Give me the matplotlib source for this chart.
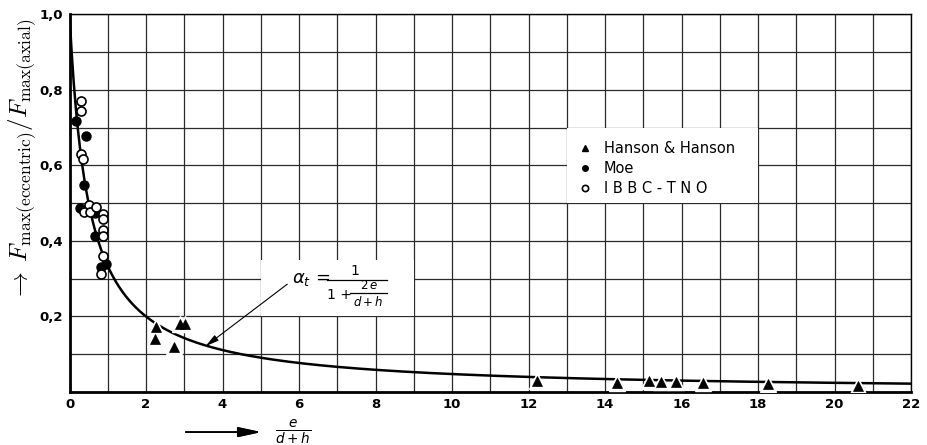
import numpy as np
import matplotlib
matplotlib.use("Agg")
import matplotlib.pyplot as plt
from matplotlib.patches import Rectangle

# Hanson & Hanson (triangles)
hanson_x = [2.25, 2.23, 2.72, 2.89, 3.03, 12.21, 14.30, 15.14, 15.46, 15.84, 16.56, 18.27, 20.60]
hanson_y = [0.172, 0.140, 0.119, 0.179, 0.179, 0.029, 0.024, 0.028, 0.026, 0.026, 0.024, 0.020, 0.017]

# Moe (filled circles)
moe_x = [0.16, 0.44, 0.38, 0.28, 0.66, 0.67, 0.82, 0.95]
moe_y = [0.718, 0.677, 0.548, 0.487, 0.473, 0.412, 0.331, 0.339]

# IBBC-TNO (open circles)
ibbc_x = [0.30, 0.30, 0.30, 0.34, 0.50, 0.38, 0.54, 0.70, 0.87, 0.87, 0.87, 0.87, 0.87, 0.82]
ibbc_y = [0.771, 0.743, 0.630, 0.616, 0.495, 0.477, 0.477, 0.489, 0.470, 0.457, 0.430, 0.412, 0.359, 0.312]

x_ticks = list(range(0, 23, 2))
y_ticks = [0.2, 0.4, 0.6, 0.8, 1.0]
y_tick_labels = ["0,2", "0,4", "0,6", "0,8", "1,0"]


def alpha_t(r):
    # curve given on the chart: alpha_t = 1 / (1 + 2e/(d+h))
    return 1.0 / (1.0 + 2.0 * r)


fig = plt.figure(figsize=(9.28, 4.45), dpi=100)
ax = fig.add_axes([0.0749, 0.119, 0.907, 0.849])

ax.set_xlim(0, 22)
ax.set_ylim(0, 1.0)
ax.set_axisbelow(True)
ax.grid(True, color="#2a2a2a", linewidth=0.9)
ax.tick_params(length=0)
ax.tick_params(axis="y", pad=5)
ax.tick_params(axis="x", pad=4)

ax.set_xticks(range(0, 23), [str(v) if v in x_ticks else "" for v in range(0, 23)])
ygrid = np.round(np.arange(0, 1.01, 0.1), 1)
ylabs = []
for v in ygrid:
    lab = ""
    for t, s in zip(y_ticks, y_tick_labels):
        if abs(t - v) < 1e-6:
            lab = s
    ylabs.append(lab)
ax.set_yticks(ygrid, ylabs)
for lab in ax.get_xticklabels() + ax.get_yticklabels():
    lab.set_fontweight("bold")
    lab.set_fontsize(9.5)

for side in ["left", "bottom"]:
    ax.spines[side].set_linewidth(2.0)
for side in ["top", "right"]:
    ax.spines[side].set_linewidth(1.0)

# white patches under the legend and the formula
ax.add_patch(Rectangle((13, 0.5), 5, 0.2, facecolor="white", edgecolor="none", zorder=1))
ax.add_patch(Rectangle((5, 0.2), 4, 0.15, facecolor="white", edgecolor="none", zorder=1))

xs = np.linspace(0.0, 22, 800)
ax.plot(xs, alpha_t(xs), color="black", linewidth=1.8, zorder=2)

# white halo behind the triangles breaks the curve like in the print
ax.plot(hanson_x, hanson_y, "^", color="white", markersize=11, mec="white", zorder=3)
ax.plot(hanson_x, hanson_y, "^", color="black", markersize=7.5, mec="black", mew=0.5, zorder=3)
ax.plot(moe_x, moe_y, "o", color="black", markersize=6.5, mec="black", zorder=3)
ax.plot(ibbc_x, ibbc_y, "o", mfc="white", mec="black", markersize=6.5, mew=1.2, zorder=4)

# legend
leg_x = [13.47, 13.47, 13.47]
leg_y = [0.645, 0.592, 0.539]
ax.plot(leg_x[0], leg_y[0], "^", color="black", markersize=5, zorder=3)
ax.plot(leg_x[1], leg_y[1], "o", color="black", markersize=4, zorder=3)
ax.plot(leg_x[2], leg_y[2], "o", mfc="white", mec="black", markersize=4.5, mew=1.2, zorder=3)
for y, s in zip(leg_y, ["Hanson & Hanson", "Moe", "I B B C - T N O"]):
    ax.text(13.96, y, s, fontsize=10.5, va="center", ha="left", zorder=3)

# formula alpha_t = 1 / (1 + 2e/(d+h)), set by hand as in the print
ax.text(5.82, 0.298, r"$\alpha_t$ =", fontsize=13, va="center", ha="left", zorder=3)
ax.text(7.45, 0.303, "1", fontsize=10, va="bottom", ha="center", zorder=3)
ax.plot([6.72, 8.29], [0.297, 0.297], color="black", lw=0.9, zorder=3)
ax.text(6.72, 0.257, "1 +", fontsize=10, va="center", ha="left", zorder=3)
ax.plot([7.34, 8.29], [0.262, 0.262], color="black", lw=0.9, zorder=3)
ax.text(7.82, 0.266, r"$2\,e$", fontsize=8.5, va="bottom", ha="center", zorder=3)
ax.text(7.82, 0.258, r"$d+h$", fontsize=8.5, va="top", ha="center", zorder=3)
ax.annotate("", xy=(3.5, 0.117), xytext=(5.75, 0.29),
            arrowprops=dict(arrowstyle="-|>,head_length=0.8,head_width=0.2",
                            color="black", lw=0.8), zorder=3)

# axis labels
fig.text(0.025, 0.64, r"$\rightarrow\; F_{\max(\mathrm{eccentric})}/F_{\max(\mathrm{axial})}$",
         rotation=90, ha="center", va="center", fontsize=18, math_fontfamily="cm")
fig.add_artist(plt.annotate("", xy=(264 / 928, 0.029), xytext=(183 / 928, 0.029),
                            xycoords="figure fraction", textcoords="figure fraction",
                            arrowprops=dict(arrowstyle="-|>,head_length=1.4,head_width=0.3",
                                            color="black", lw=1.2)))
fig.text(293 / 928, 0.03, r"$\frac{e}{d+h}$", fontsize=14, ha="center", va="center")

fig.savefig("out.png", dpi=100)
